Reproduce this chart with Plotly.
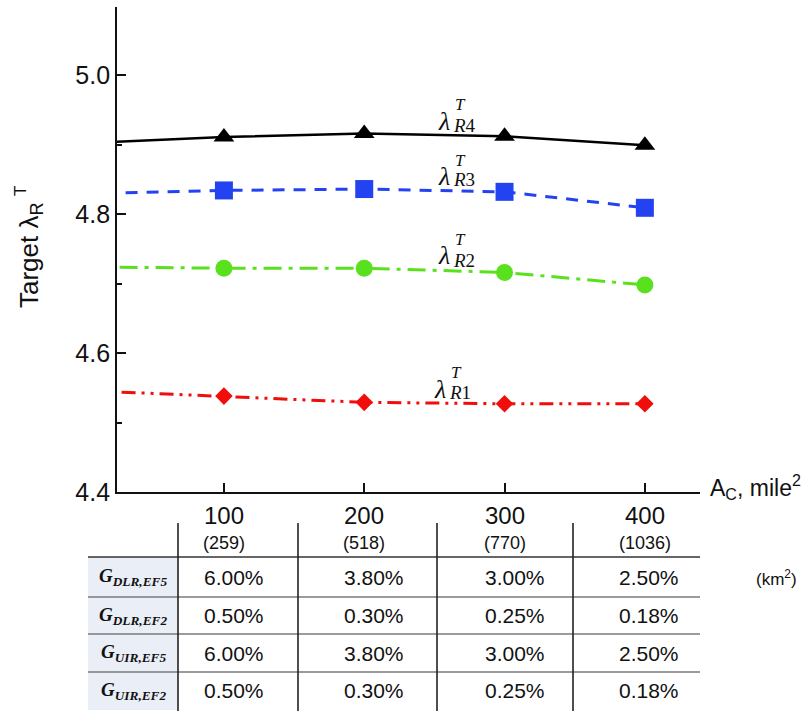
import plotly.graph_objects as go

# ---------------- data ----------------
area_mi2 = [100, 200, 300, 400]
area_km2 = ["(259)", "(518)", "(770)", "(1036)"]
x_line = [0, 100, 200, 300, 400]          # line drawn from the axis start
lam_R4 = [4.902, 4.911, 4.916, 4.912, 4.899]
lam_R3 = [4.829, 4.834, 4.836, 4.832, 4.809]
lam_R2 = [4.724, 4.722, 4.722, 4.716, 4.698]
lam_R1 = [4.546, 4.538, 4.529, 4.527, 4.527]

row_labels = ["DLR,EF5", "DLR,EF2", "UIR,EF5", "UIR,EF2"]
table_vals = [
    ["6.00%", "3.80%", "3.00%", "2.50%"],
    ["0.50%", "0.30%", "0.25%", "0.18%"],
    ["6.00%", "3.80%", "3.00%", "2.50%"],
    ["0.50%", "0.30%", "0.25%", "0.18%"],
]
y_ticks = [4.4, 4.6, 4.8, 5.0]

# ---------------- layout geometry ----------------
W, H = 811, 712
L, R, T, B = 117, 111, 7, 220
PW, PH = W - L - R, H - T - B


def px(p):
    return (p - L) / PW


def py(p):
    return (T + PH - p) / PH


SANS = "Liberation Sans"
SERIF = "Liberation Serif"

series = [
    ("R4", lam_R4, "#000000", "solid", "triangle-up", 18, 2.5),
    ("R3", lam_R3, "#2343f2", "12px,9px", "square", 18, 3),
    ("R2", lam_R2, "#5ae11e", "18px,7px,4px,7px", "circle", 17, 3),
    ("R1", lam_R1, "#f20d0d", "14px,6px,3px,6px,3px,6px", "diamond", 13.5, 3),
]

fig = go.Figure()
for name, ys, col, dash, sym, msize, lw in series:
    fig.add_trace(go.Scatter(x=x_line, y=ys, mode="lines", showlegend=False,
                             line=dict(color=col, width=lw, dash=dash)))
    fig.add_trace(go.Scatter(x=area_mi2, y=ys[1:], mode="markers", showlegend=False,
                             marker=dict(color=col, size=msize, symbol=sym, line=dict(width=0))))

ann = []
# lambda labels (pixel positions of the labels)
lab_pos = {"R4": (452, 121, 105, 125), "R3": (452, 176, 160, 180),
           "R2": (452, 256, 240, 260), "R1": (448, 389, 372, 392)}
for name, (xl, yl, yt, ys_) in lab_pos.items():
    ann.append(dict(x=px(xl), y=py(yl), xref="paper", yref="paper", text="<i>λ</i>",
                    xanchor="right", yanchor="middle", showarrow=False,
                    font=dict(family=SERIF, size=26, color="#111")))
    ann.append(dict(x=px(xl + 1), y=py(yt), xref="paper", yref="paper", text="<i>T</i>",
                    xanchor="left", yanchor="middle", showarrow=False,
                    font=dict(family=SERIF, size=17, color="#111")))
    ann.append(dict(x=px(xl - 1), y=py(ys_), xref="paper", yref="paper",
                    text="<i>R</i>" + name[1], xanchor="left", yanchor="middle", showarrow=False,
                    font=dict(family=SERIF, size=19, color="#111")))

# y axis title
ann.append(dict(x=px(31), y=py(255), xref="paper", yref="paper", text="Target λ<sub>R</sub>",
                textangle=-90, showarrow=False, xanchor="center", yanchor="middle",
                font=dict(family=SANS, size=26, color="#111")))
ann.append(dict(x=px(20), y=py(191), xref="paper", yref="paper", text="T",
                textangle=-90, showarrow=False, xanchor="center", yanchor="middle",
                font=dict(family=SANS, size=17, color="#111")))

# x axis title
ann.append(dict(x=px(708), y=py(487), xref="paper", yref="paper",
                text="A<sub>C</sub>, mile<sup>2</sup>", xanchor="left", yanchor="middle",
                showarrow=False, font=dict(family=SANS, size=23, color="#111")))
ann.append(dict(x=px(776), y=py(578), xref="paper", yref="paper",
                text="(km<sup>2</sup>)", xanchor="center", yanchor="middle",
                showarrow=False, font=dict(family=SANS, size=17, color="#111")))

# table header
for a, km in zip(area_mi2, area_km2):
    ann.append(dict(x=a, y=py(515), xref="x", yref="paper", text=str(a),
                    xanchor="center", yanchor="middle", showarrow=False,
                    font=dict(family=SANS, size=24, color="#111")))
    ann.append(dict(x=a, y=py(543), xref="x", yref="paper", text=km,
                    xanchor="center", yanchor="middle", showarrow=False,
                    font=dict(family=SANS, size=18, color="#111")))

col_left = [202, 342, 483, 617]
row_top = [557, 597, 634, 672]
row_bot = [597, 634, 672, 710]
for i, (lab, vals) in enumerate(zip(row_labels, table_vals)):
    yc = (row_top[i] + row_bot[i]) / 2
    ann.append(dict(x=px(133), y=py(yc), xref="paper", yref="paper",
                    text="<b><i>G</i></b><sub><b><i>" + lab + "</i></b></sub>",
                    xanchor="center", yanchor="middle", showarrow=False,
                    font=dict(family=SERIF, size=19, color="#111")))
    for xl, v in zip(col_left, vals):
        ann.append(dict(x=px(xl), y=py(yc), xref="paper", yref="paper", text=v,
                        xanchor="left", yanchor="middle", showarrow=False,
                        font=dict(family=SANS, size=21, color="#111")))

shapes = []
# light blue label column
shapes.append(dict(type="rect", xref="paper", yref="paper", x0=px(88), x1=px(178),
                   y0=py(557), y1=py(710), fillcolor="#e9eef7", line=dict(width=0), layer="below"))
# header line
shapes.append(dict(type="line", xref="paper", yref="paper", x0=px(88), x1=px(700),
                   y0=py(557), y1=py(557), line=dict(color="#333", width=1.3)))
for yy in [597, 634, 672]:
    shapes.append(dict(type="line", xref="paper", yref="paper", x0=px(88), x1=px(700),
                       y0=py(yy), y1=py(yy), line=dict(color="#7a7a7a", width=1.3)))
for xx in [178, 298, 437, 573]:
    shapes.append(dict(type="line", xref="paper", yref="paper", x0=px(xx), x1=px(xx),
                       y0=py(523), y1=py(711), line=dict(color="#222", width=1.6)))

fig.update_layout(
    width=W, height=H, margin=dict(l=L, r=R, t=T, b=B),
    paper_bgcolor="white", plot_bgcolor="white",
    annotations=ann, shapes=shapes, showlegend=False,
    xaxis=dict(range=[23.8, 439.3], showgrid=False, zeroline=False, showline=True,
               linecolor="#111", linewidth=1.8, ticks="inside", ticklen=9, tickwidth=1.5,
               tickcolor="#111", tickvals=area_mi2, showticklabels=False),
    yaxis=dict(range=[4.4, 5.098], showgrid=False, zeroline=False, showline=True,
               linecolor="#111", linewidth=1.8, ticks="inside", ticklen=9, tickwidth=1.5,
               tickcolor="#111", tickvals=y_ticks, ticktext=[f"{v:.1f}" for v in y_ticks],
               tickfont=dict(family=SANS, size=25, color="#111"),
               minor=dict(ticks="inside", ticklen=5, tickwidth=1.5, tickcolor="#111", dtick=0.1,
                          tick0=4.4)),
)

fig.write_html("out.html")
